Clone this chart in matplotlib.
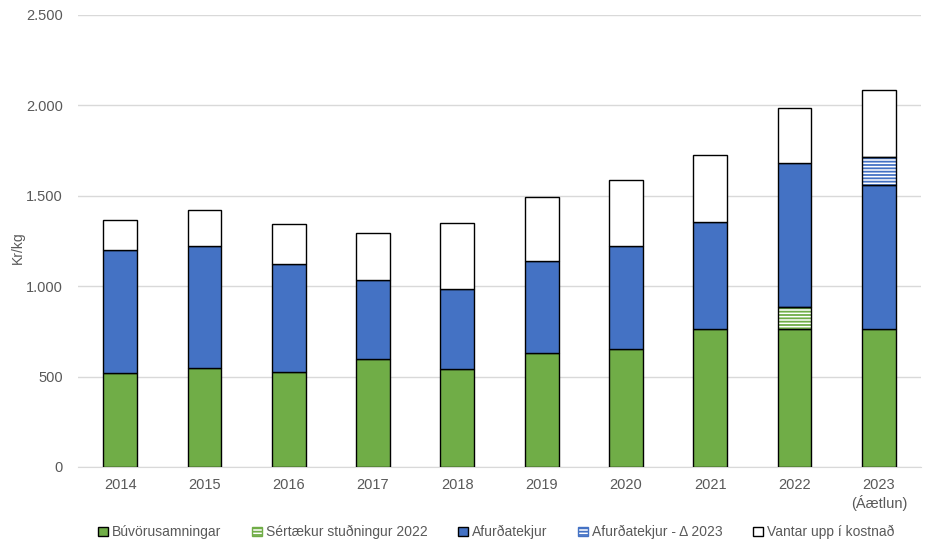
import numpy as np
import matplotlib
matplotlib.use("Agg")
import matplotlib.pyplot as plt
from matplotlib.ticker import FuncFormatter, MultipleLocator
from matplotlib.patches import Patch

ar = ["2014", "2015", "2016", "2017", "2018", "2019", "2020", "2021", "2022", "2023\n(Áætlun)"]
buvoru = [522, 550, 526, 596, 541, 631, 655, 763, 763, 765]
sertaekur = [0, 0, 0, 0, 0, 0, 0, 0, 120, 0]
afurd = [678, 670, 598, 437, 444, 508, 565, 590, 796, 796]
afurd_delta = [0, 0, 0, 0, 0, 0, 0, 0, 0, 152]
vantar = [164, 200, 220, 259, 363, 353, 369, 373, 308, 374]

graenn = "#70AD47"
blar = "#4472C4"
grar = "#595959"

plt.rcParams['font.family'] = ['Liberation Sans', 'DejaVu Sans']
plt.rcParams['hatch.linewidth'] = 1.3

fig = plt.figure(figsize=(9.28, 5.46), dpi=100)
ax = fig.add_axes([78/928, 79/546, 843/928, 452/546])

x = np.arange(len(ar))
w = 0.4
botn = np.zeros(len(ar))

def stafli(gildi, litur, hatch=None, hatchlitur=None):
    global botn
    gildi = np.array(gildi, dtype=float)
    if hatch is None:
        ax.bar(x, gildi, w, bottom=botn, color=litur, edgecolor="black", linewidth=1, zorder=3)
    else:
        ax.bar(x, gildi, w, bottom=botn, color="white", edgecolor=hatchlitur, hatch=hatch, linewidth=0, zorder=3)
        ax.bar(x[gildi > 0], gildi[gildi > 0], w, bottom=botn[gildi > 0], fill=False, edgecolor="black", linewidth=1, zorder=4)
    botn = botn + gildi

stafli(buvoru, graenn)
stafli(sertaekur, None, hatch="-----", hatchlitur=graenn)
stafli(afurd, blar)
stafli(afurd_delta, None, hatch="-----", hatchlitur=blar)
stafli(vantar, "white")

ax.set_xlim(-0.5, len(ar) - 0.5)
ax.set_ylim(0, 2500)
ax.yaxis.set_major_locator(MultipleLocator(500))
ax.yaxis.set_major_formatter(FuncFormatter(lambda v, p: f"{int(v):,}".replace(",", ".")))
ax.grid(axis="y", color="#D9D9D9", linewidth=1, zorder=0)
ax.set_xticks(x)
ax.set_xticklabels(ar)
ax.tick_params(axis="both", length=0, labelsize=10.5, colors=grar, pad=8)
ax.tick_params(axis="y", pad=11)
for s in ["top", "right", "left"]:
    ax.spines[s].set_visible(False)
ax.spines["bottom"].set_color("#D9D9D9")
fig.text(18/928, (546 - 248)/546, "Kr/kg", rotation=90, color=grar, fontsize=10,
         ha="center", va="center")

handles = [
    Patch(facecolor=graenn, edgecolor="black", label="Búvörusamningar"),
    Patch(facecolor="white", edgecolor=graenn, hatch="-----", label="Sértækur stuðningur 2022"),
    Patch(facecolor=blar, edgecolor="black", label="Afurðatekjur"),
    Patch(facecolor="white", edgecolor=blar, hatch="-----", label="Afurðatekjur - Δ 2023"),
    Patch(facecolor="white", edgecolor="black", label="Vantar upp í kostnað"),
]
leg = fig.legend(handles=handles, loc="center", bbox_to_anchor=(0.535, 0.025), ncol=5,
                 frameon=False, fontsize=10, handlelength=0.7, handleheight=0.7,
                 handletextpad=0.3, columnspacing=2.2)
for t in leg.get_texts():
    t.set_color(grar)

fig.savefig("out.png", dpi=100)
